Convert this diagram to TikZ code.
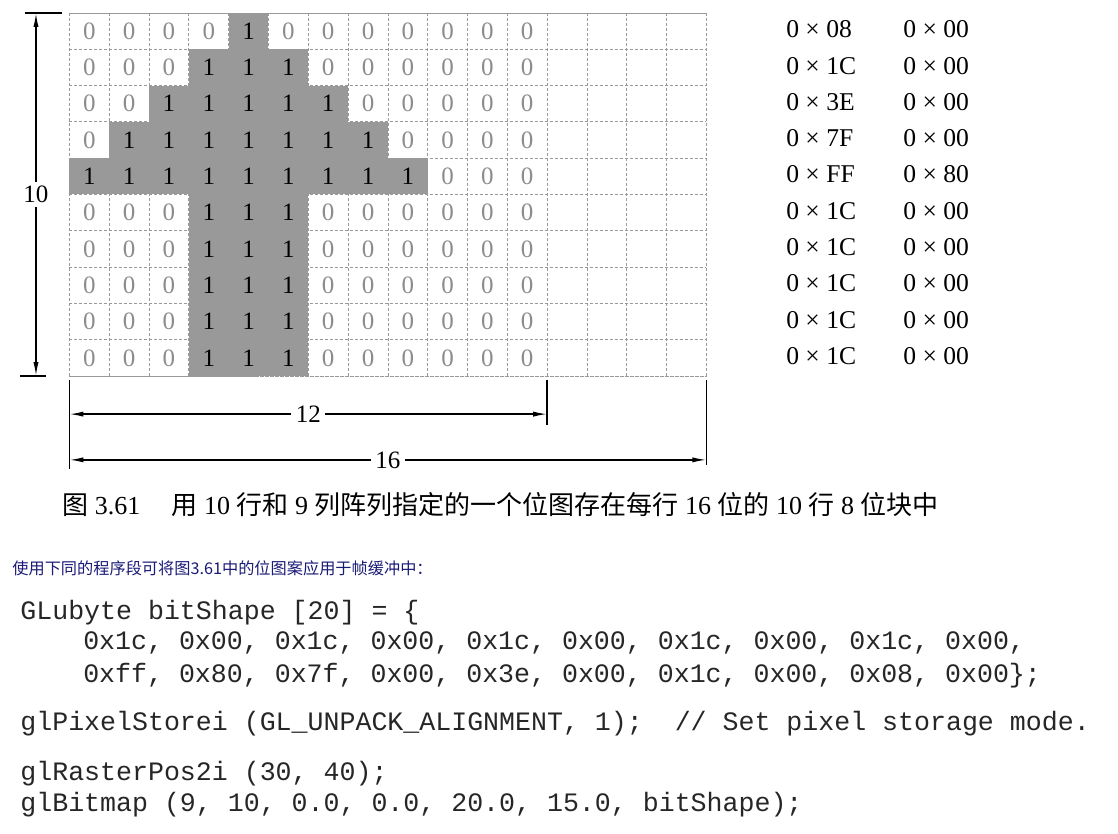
\documentclass[tikz,border=0pt]{standalone}
\usepackage{fontspec}
\setmainfont{Liberation Serif}
\setmonofont{Liberation Mono}
\newfontfamily\cjk{Noto Sans CJK SC}
\usetikzlibrary{arrows.meta}

\definecolor{bitgray}{gray}{0.6}
\definecolor{notenavy}{HTML}{1A1A78}

\tikzset{
  gridline/.style={black!40, line width=0.4pt, dash pattern=on 1.5pt off 1pt},
  dimline/.style={line width=0.7pt, -{Latex[length=7pt,width=2.6pt]}},
  extline/.style={line width=0.7pt},
  bitset/.style={font=\fontsize{12.5}{14}\selectfont, inner sep=0pt},
  bitclear/.style={bitset, text=black!45},
  hexlabel/.style={font=\fontsize{12.8}{14}\selectfont, anchor=west, inner sep=0pt},
  dimlabel/.style={font=\fontsize{12.5}{14}\selectfont, inner sep=2pt},
  codeline/.style={font=\fontsize{13.3}{15}\ttfamily, anchor=west, inner sep=0pt, text=black!85},
}

\begin{document}
\begin{tikzpicture}[x=19.9pt,y=18.15pt]
  \useasboundingbox (-1.746,-12.590) rectangle (26.344,10.358);
  %\draw[step=1,gray,very thin] (0,0) grid (16,10);

  % Bitmap: row, first and last set column (top row first)
  \foreach \r/\a/\b in {0/4/4,1/3/5,2/2/6,3/1/7,4/0/8,5/3/5,6/3/5,7/3/5,8/3/5,9/3/5}
    \fill[bitgray] (\a,9-\r) rectangle (\b+1,10-\r);
  \foreach \r/\a/\b in {0/4/4,1/3/5,2/2/6,3/1/7,4/0/8,5/3/5,6/3/5,7/3/5,8/3/5,9/3/5}
    \foreach \c in {0,...,11} {
      \pgfmathtruncatemacro\on{(\c>=\a && \c<=\b) ? 1 : 0}
      \ifnum\on=1
        \node[bitset] (bit-\r-\c) at (\c+0.5,9.5-\r) {1};
      \else
        \node[bitclear] (bit-\r-\c) at (\c+0.5,9.5-\r) {0};
      \fi
    }
  \draw[gridline, step=1] (0,0) grid (16,10);
  \draw[gridline] (0,0) rectangle (16,10);

  % Height: 10 rows
  \coordinate (top10) at (-0.842,10);
  \coordinate (bot10) at (-0.842,0);
  \node[dimlabel] (h10) at (-0.842,5) {10};
  \draw[dimline] (h10) -- (top10);
  \draw[dimline] (h10) -- (bot10);
  \draw[extline] (top10) ++(-0.28,0) -- ++(0.93,0);
  \draw[extline] (bot10) ++(-0.40,0) -- ++(0.65,0);

  % Widths: 12 and 16 columns
  \coordinate (l12) at (0,-1.05);
  \coordinate (r12) at (12,-1.05);
  \coordinate (l16) at (0,-2.31);
  \coordinate (r16) at (16,-2.31);
  \node[dimlabel] (w12) at (6,-1.05) {12};
  \node[dimlabel] (w16) at (8,-2.31) {16};
  \draw[dimline] (w12) -- (l12);
  \draw[dimline] (w12) -- (r12);
  \draw[dimline] (w16) -- (l16);
  \draw[dimline] (w16) -- (r16);
  \draw[extline] (r12) ++(0,0.95) -- ++(0,-1.25);
  \draw[extline] (l16) ++(0,2.21) -- ++(0,-2.45);
  \draw[extline] (r16) ++(0,2.21) -- ++(0,-2.35);

  % Byte values of each row
  \foreach \hi/\lo [count=\r from 0] in {08/00,1C/00,3E/00,7F/00,FF/80,1C/00,1C/00,1C/00,1C/00,1C/00} {
    \node[hexlabel] (hi\r) at (18.0,9.55-\r) {0 × \hi};
    \node[hexlabel] (lo\r) at (20.94,9.55-\r) {0 × \lo};
  }

  % Caption and note
  \node[anchor=west, inner sep=0pt, font=\fontsize{13}{15}\selectfont] (cap) at (-0.19,-3.55)
    {{\cjk 图} 3.61\hspace{1.2em}{\cjk 用} 10 {\cjk 行和} 9 {\cjk 列阵列指定的一个位图存在每行} 16 {\cjk 位的} 10 {\cjk 行} 8 {\cjk 位块中}};
  \node[anchor=west, inner sep=0pt, text=notenavy, font=\fontsize{8.1}{9}\cjk] (note) at (-1.445,-5.29)
    {使用下同的程序段可将图3.61中的位图案应用于帧缓冲中：};

  % Program fragment
  \node[codeline] (c1) at (-1.244,-6.52) {GLubyte bitShape [20] = \{};
  \node[codeline] (c2) at (0.336,-7.35) {0x1c, 0x00, 0x1c, 0x00, 0x1c, 0x00, 0x1c, 0x00, 0x1c, 0x00,};
  \node[codeline] (c3) at (0.336,-8.26) {0xff, 0x80, 0x7f, 0x00, 0x3e, 0x00, 0x1c, 0x00, 0x08, 0x00\};};
  \node[codeline] (c4) at (-1.244,-9.58) {glPixelStorei (GL\_UNPACK\_ALIGNMENT, 1);\ \ // Set pixel storage mode.};
  \node[codeline] (c5) at (-1.244,-10.96) {glRasterPos2i (30, 40);};
  \node[codeline] (c6) at (-1.244,-11.81) {glBitmap (9, 10, 0.0, 0.0, 20.0, 15.0, bitShape);};

\end{tikzpicture}
\end{document}
